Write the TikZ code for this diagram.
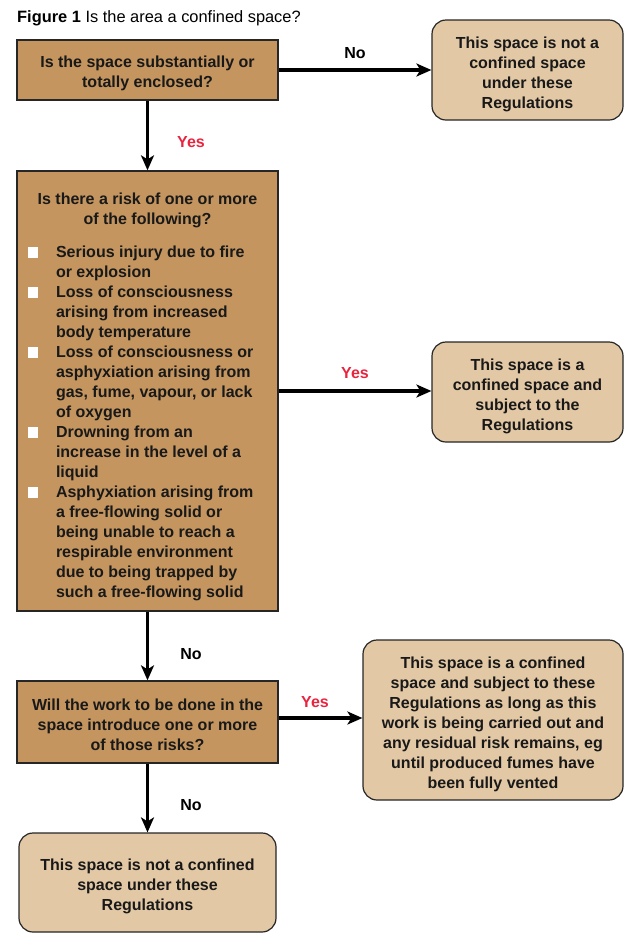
\documentclass[tikz,border=0pt]{standalone}
\usepackage{fontspec}
\setmainfont{Liberation Sans}
\usetikzlibrary{arrows.meta}
\definecolor{qfill}{HTML}{C4955F}
\definecolor{rfill}{HTML}{E3C8A5}
\definecolor{yesred}{HTML}{E8253F}
\newcommand{\bsq}{\textcolor{white}{\rule[0pt]{10.5pt}{10.5pt}}}
\begin{document}
\begin{tikzpicture}[x=1pt,y=-1pt,
  txt/.style={font=\fontsize{16}{20}\selectfont\bfseries, align=center, inner sep=0pt, text=black!90},
  qbox/.style={draw=black!85, line width=1.3pt, fill=qfill, minimum width=261pt, inner sep=0pt},
  rbox/.style={draw=black!85, line width=1.2pt, fill=rfill, rounded corners=14pt, inner sep=0pt},
  flow/.style={line width=3.2pt, -{Stealth[length=15pt,width=13pt,inset=4pt]}},
  lab/.style={font=\fontsize{16}{20}\selectfont\bfseries, inner sep=0pt},
  yes/.style={lab, text=yesred}]
\useasboundingbox (0,0) rectangle (641,946);

\node[anchor=west, inner sep=0pt, font=\fontsize{16.4}{20}\selectfont] (title) at (17,18) {\textbf{Figure 1} Is the area a confined space?};

% boxes
\node[qbox, minimum height=60pt] (q1) at (147.5,70) {};
\node[rbox, minimum width=191pt, minimum height=100pt] (r1) at (527.5,70) {};
\node[qbox, minimum height=440pt] (q2) at (147.5,391) {};
\node[rbox, minimum width=191pt, minimum height=100pt] (r2) at (527.5,392) {};
\node[qbox, minimum height=82pt] (q3) at (147.5,722) {};
\node[rbox, minimum width=260pt, minimum height=160pt] (r3) at (493,720) {};
\node[rbox, minimum width=257pt, minimum height=99pt] (r4) at (147.5,882.5) {};

% texts
\node[txt] (q1t) at ([yshift=-3pt]q1.center) {Is the space substantially or\\totally enclosed?};
\node[txt] (r1t) at ([yshift=-4pt]r1.center) {This space is not a\\confined space\\under these\\Regulations};
\node[txt] (r2t) at ([yshift=-4pt]r2.center) {This space is a\\confined space and\\subject to the\\Regulations};
\node[txt] (q3t) at ([yshift=-3pt]q3.center) {Will the work to be done in the\\space introduce one or more\\of those risks?};
\node[txt] (r3t) at ([yshift=-4pt]r3.center) {This space is a confined\\space and subject to these\\Regulations as long as this\\work is being carried out and\\any residual risk remains, eg\\until produced fumes have\\been fully vented};
\node[txt] (r4t) at ([yshift=-4pt]r4.center) {This space is not a confined\\space under these\\Regulations};
\node[txt, align=left] (q2t) at ([yshift=-7.5pt]q2.center) {\parbox{240pt}{\centering Is there a risk of one or more\\ of the following?\par\vspace{13pt}
\raggedright\begin{tabular}[t]{@{}p{28.5pt}@{}l@{}}
\bsq & Serious injury due to fire\\
 & or explosion\\
\bsq & Loss of consciousness\\
 & arising from increased\\
 & body temperature\\
\bsq & Loss of consciousness or\\
 & asphyxiation arising from\\
 & gas, fume, vapour, or lack\\
 & of oxygen\\
\bsq & Drowning from an\\
 & increase in the level of a\\
 & liquid\\
\bsq & Asphyxiation arising from\\
 & a free-flowing solid or\\
 & being unable to reach a\\
 & respirable environment\\
 & due to being trapped by\\
 & such a free-flowing solid
\end{tabular}}};

% connectors
\draw[flow] (q1.east) -- (r1.west);
\draw[flow] (q1.south) -- (q2.north);
\draw[flow] (q2.east) -- (q2.east -| r2.west);
\draw[flow] (q2.south) -- (q3.north);
\draw[flow] ([yshift=4pt]q3.east) -- ([yshift=4pt]q3.east -| r3.west);
\draw[flow] (q3.south) -- (r4.north);

% labels
\node[lab] (l1) at (355,53) {No};
\node[yes] (l2) at (191,142) {Yes};
\node[yes] (l3) at (355,373) {Yes};
\node[lab] (l4) at (191,654) {No};
\node[yes] (l5) at (315,702) {Yes};
\node[lab] (l6) at (191,805) {No};
\end{tikzpicture}
\end{document}
